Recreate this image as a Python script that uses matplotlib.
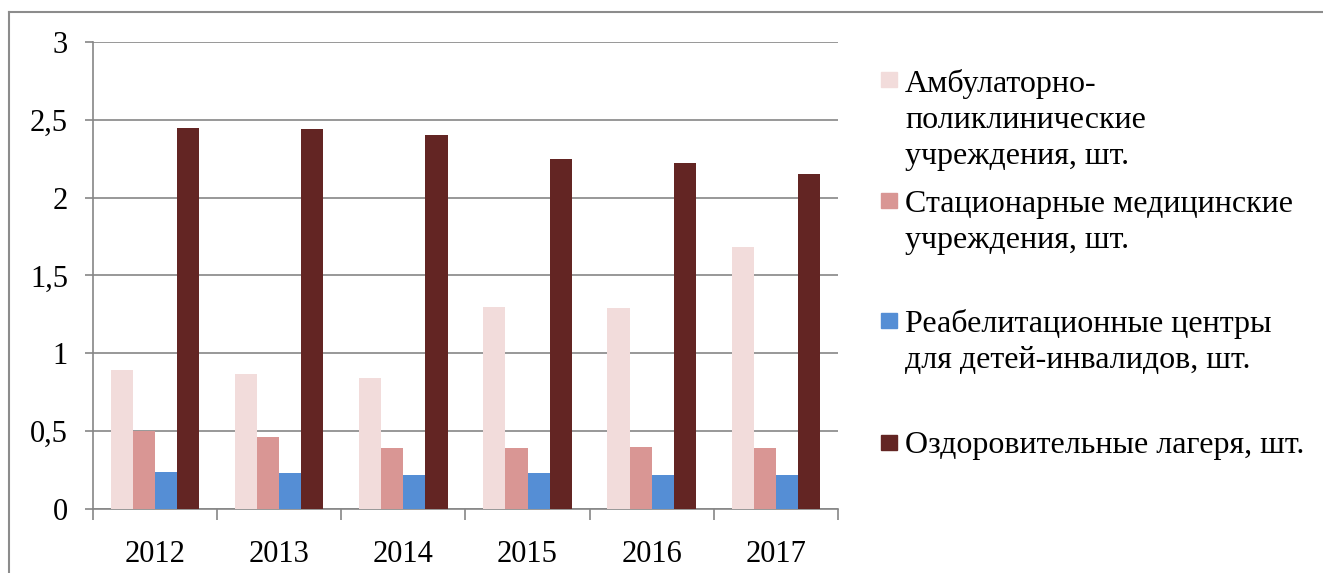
import numpy as np
import matplotlib.pyplot as plt
from matplotlib.patches import Rectangle
from matplotlib.lines import Line2D

plt.rcParams['font.family'] = ['Liberation Serif', 'DejaVu Serif']

years = ['2012', '2013', '2014', '2015', '2016', '2017']
labels = [
    ['Амбулаторно-', 'поликлинические', 'учреждения, шт.'],
    ['Стационарные медицинские', 'учреждения, шт.'],
    ['Реабелитационные центры', 'для детей-инвалидов, шт.'],
    ['Оздоровительные лагеря, шт.'],
]
ambulatory = [0.89, 0.87, 0.84, 1.30, 1.29, 1.68]
hospitals = [0.50, 0.46, 0.39, 0.39, 0.40, 0.39]
rehab = [0.24, 0.23, 0.22, 0.23, 0.22, 0.22]
camps = [2.45, 2.44, 2.40, 2.25, 2.22, 2.15]
colors = ['#F2DCDB', '#D99694', '#558ED5', '#632523']

W, H = 1323, 573
fig = plt.figure(figsize=(W / 100, H / 100), dpi=100)
ax = fig.add_axes([0.0703, 0.1117, 0.5630, 0.8150])

# chart border (cropped: only top and left edges visible)
fig.add_artist(Line2D([9 / W, 1.0], [1 - 12 / H] * 2, transform=fig.transFigure,
                      color='#8C8C8C', linewidth=1.5))
fig.add_artist(Line2D([9 / W] * 2, [0, 1 - 12 / H], transform=fig.transFigure,
                      color='#8C8C8C', linewidth=1.5))

x = np.arange(len(years))
w = 0.178
series = [ambulatory, hospitals, rehab, camps]
for i, vals in enumerate(series):
    ax.bar(x + (i - 1.5) * w, vals, width=w, color=colors[i], zorder=3)

ax.set_xlim(-0.5, len(years) - 0.5)
ax.set_ylim(0, 3)
ax.set_yticks(np.arange(0, 3.01, 0.5))
ax.set_yticklabels(['0', '0,5', '1', '1,5', '2', '2,5', '3'])
ax.set_xticks(x)
ax.set_xticklabels(years)
ax.set_xticks(np.arange(-0.5, len(years), 1.0), minor=True)
ax.tick_params(axis='x', which='major', length=0, pad=22, labelsize=22)
ax.tick_params(axis='x', which='minor', length=8, color='#868686', width=1.2)
ax.tick_params(axis='y', length=6, color='#868686', width=1.2, labelsize=22, pad=12)
ax.yaxis.grid(True, color='#868686', linewidth=1.2, zorder=0)
for s in ['top', 'right']:
    ax.spines[s].set_visible(False)
for s in ['left', 'bottom']:
    ax.spines[s].set_color('#868686')
    ax.spines[s].set_linewidth(1.2)

# legend laid out like the original: square aligned with first text line
sq_tops = [72, 193, 313, 435]
baselines = [92, 212, 332, 453]
line_h = 36
for col, lines, st, bl in zip(colors, labels, sq_tops, baselines):
    fig.patches.append(Rectangle((881 / W, 1 - (st + 15) / H), 16 / W, 15 / H,
                                 transform=fig.transFigure, color=col))
    for k, line in enumerate(lines):
        fig.text(905 / W, 1 - (bl + k * line_h) / H, line, fontsize=23,
                 va='baseline', ha='left')

fig.savefig('out.png', dpi=100)
